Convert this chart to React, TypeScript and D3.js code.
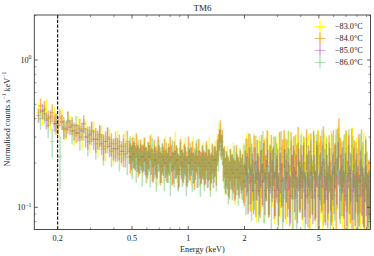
import React from "react";
import * as d3 from "d3";

// ---------- data ----------
// bin centres (keV) of the grouped spectra; two groupings
const energyA = [
  0.158, 0.166, 0.174, 0.183, 0.192, 0.201, 0.211, 0.222, 0.233, 0.245,
  0.257, 0.270, 0.283, 0.297, 0.312, 0.328, 0.344, 0.361, 0.379, 0.398,
  0.418, 0.439, 0.461, 0.484, 0.496, 0.508, 0.521, 0.534, 0.547, 0.561,
  0.575, 0.589, 0.604, 0.619, 0.634, 0.650, 0.666, 0.683, 0.700, 0.718,
  0.736, 0.754, 0.773, 0.792, 0.812, 0.832, 0.853, 0.874, 0.896, 0.919,
  0.942, 0.965, 0.989, 1.014, 1.039, 1.065, 1.092, 1.119, 1.147, 1.176,
  1.205, 1.235, 1.266, 1.298, 1.330, 1.363, 1.397, 1.432, 1.468, 1.505,
  1.542, 1.581, 1.620, 1.661, 1.702, 1.745, 1.788, 1.833, 1.879, 1.926,
  1.974, 2.020, 2.055, 2.091, 2.128, 2.165, 2.203, 2.242, 2.281, 2.321,
  2.362, 2.403, 2.445, 2.488, 2.532, 2.576, 2.621, 2.667, 2.714, 2.761,
  2.810, 2.859, 2.909, 2.960, 3.012, 3.065, 3.118, 3.173, 3.228, 3.285,
  3.342, 3.401, 3.460, 3.521, 3.582, 3.645, 3.709, 3.774, 3.840, 3.907,
  3.976, 4.045, 4.116, 4.188, 4.262, 4.336, 4.412, 4.490, 4.568, 4.648,
  4.730, 4.813, 4.897, 4.983, 5.070, 5.159, 5.249, 5.341, 5.434, 5.530,
  5.626, 5.725, 5.825, 5.927, 6.031, 6.136, 6.244, 6.353, 6.464, 6.577,
  6.692, 6.810, 6.929, 7.050, 7.174, 7.299, 7.427, 7.557, 7.689, 7.824,
  7.961, 8.100, 8.242, 8.386, 8.533, 8.682, 8.834, 8.989, 9.146, 9.306,
];
const energyB = [
  0.162, 0.170, 0.178, 0.187, 0.196, 0.206, 0.216, 0.227, 0.239, 0.251,
  0.263, 0.276, 0.290, 0.304, 0.320, 0.336, 0.352, 0.370, 0.388, 0.408,
  0.428, 0.450, 0.472, 0.490, 0.502, 0.514, 0.527, 0.540, 0.554, 0.568,
  0.582, 0.596, 0.611, 0.626, 0.642, 0.658, 0.674, 0.691, 0.709, 0.727,
  0.745, 0.763, 0.782, 0.802, 0.822, 0.842, 0.863, 0.885, 0.907, 0.930,
  0.953, 0.977, 1.001, 1.026, 1.052, 1.078, 1.105, 1.133, 1.161, 1.190,
  1.220, 1.250, 1.282, 1.314, 1.346, 1.380, 1.414, 1.450, 1.486, 1.523,
  1.561, 1.600, 1.640, 1.681, 1.723, 1.766, 1.810, 1.856, 1.902, 1.950,
  1.997, 2.037, 2.073, 2.109, 2.146, 2.184, 2.222, 2.261, 2.301, 2.341,
  2.382, 2.424, 2.466, 2.510, 2.554, 2.598, 2.644, 2.690, 2.737, 2.785,
  2.834, 2.884, 2.934, 2.986, 3.038, 3.091, 3.145, 3.200, 3.256, 3.313,
  3.371, 3.430, 3.490, 3.551, 3.613, 3.677, 3.741, 3.807, 3.873, 3.941,
  4.010, 4.080, 4.152, 4.225, 4.299, 4.374, 4.451, 4.529, 4.608, 4.689,
  4.771, 4.855, 4.940, 5.026, 5.114, 5.204, 5.295, 5.387, 5.482, 5.578,
  5.675, 5.775, 5.876, 5.979, 6.083, 6.190, 6.298, 6.408, 6.520, 6.634,
  6.751, 6.869, 6.989, 7.112, 7.236, 7.363, 7.492, 7.623, 7.756, 7.892,
  8.030, 8.171, 8.314, 8.459, 8.607, 8.758, 8.911, 9.067, 9.226, 9.390,
];

const seriesNames = ["\u221283.0\u00b0C", "\u221284.0\u00b0C", "\u221285.0\u00b0C", "\u221286.0\u00b0C"];

// normalised counts s^-1 keV^-1
const rate83 = [
  0.44, 0.41, 0.47, 0.38, 0.42, 0.35, 0.40, 0.33, 0.37, 0.31,
  0.36, 0.30, 0.34, 0.28, 0.33, 0.27, 0.31, 0.25, 0.29, 0.24,
  0.28, 0.23, 0.27, 0.25, 0.21, 0.26, 0.22, 0.25, 0.20, 0.24,
  0.21, 0.25, 0.19, 0.23, 0.26, 0.20, 0.22, 0.18, 0.24, 0.21,
  0.19, 0.25, 0.20, 0.23, 0.18, 0.22, 0.26, 0.19, 0.21, 0.23,
  0.18, 0.24, 0.20, 0.22, 0.19, 0.25, 0.18, 0.21, 0.23, 0.19,
  0.22, 0.18, 0.21, 0.24, 0.19, 0.20, 0.23, 0.25, 0.31, 0.27,
  0.20, 0.17, 0.21, 0.16, 0.19, 0.22, 0.15, 0.18, 0.20, 0.16,
  0.21, 0.15, 0.24, 0.13, 0.19, 0.23, 0.14, 0.25, 0.16, 0.12,
  0.22, 0.24, 0.14, 0.19, 0.12, 0.23, 0.16, 0.26, 0.13, 0.20,
  0.15, 0.23, 0.12, 0.21, 0.17, 0.25, 0.13, 0.20, 0.15, 0.24,
  0.12, 0.19, 0.25, 0.14, 0.22, 0.11, 0.18, 0.24, 0.13, 0.21,
  0.15, 0.25, 0.12, 0.22, 0.17, 0.13, 0.24, 0.11, 0.20, 0.15,
  0.23, 0.12, 0.18, 0.26, 0.13, 0.21, 0.11, 0.24, 0.15, 0.22,
  0.13, 0.20, 0.25, 0.12, 0.18, 0.23, 0.15, 0.27, 0.13, 0.21,
  0.12, 0.23, 0.15, 0.25, 0.11, 0.20, 0.13, 0.26, 0.17, 0.12,
  0.22, 0.13, 0.21, 0.11, 0.19, 0.24, 0.12, 0.17, 0.10, 0.14,
];
const rate84 = [
  0.49, 0.46, 0.40, 0.44, 0.37, 0.41, 0.34, 0.38, 0.36, 0.32,
  0.34, 0.37, 0.30, 0.33, 0.29, 0.31, 0.26, 0.30, 0.27, 0.25,
  0.26, 0.24, 0.28, 0.22, 0.25, 0.23, 0.27, 0.21, 0.24, 0.22,
  0.25, 0.21, 0.23, 0.26, 0.20, 0.24, 0.21, 0.25, 0.19, 0.22,
  0.24, 0.20, 0.22, 0.25, 0.19, 0.23, 0.21, 0.18, 0.24, 0.20,
  0.22, 0.19, 0.25, 0.20, 0.23, 0.18, 0.22, 0.24, 0.19, 0.21,
  0.19, 0.23, 0.20, 0.18, 0.22, 0.21, 0.19, 0.26, 0.33, 0.28,
  0.21, 0.19, 0.17, 0.20, 0.18, 0.16, 0.21, 0.17, 0.19, 0.18,
  0.15, 0.23, 0.18, 0.25, 0.14, 0.21, 0.16, 0.24, 0.13, 0.22,
  0.17, 0.13, 0.24, 0.15, 0.22, 0.17, 0.26, 0.13, 0.20, 0.24,
  0.19, 0.13, 0.23, 0.16, 0.12, 0.25, 0.15, 0.22, 0.26, 0.13,
  0.22, 0.15, 0.12, 0.25, 0.17, 0.23, 0.13, 0.20, 0.27, 0.15,
  0.20, 0.13, 0.23, 0.15, 0.26, 0.12, 0.18, 0.24, 0.14, 0.25,
  0.13, 0.21, 0.25, 0.12, 0.23, 0.15, 0.27, 0.13, 0.20, 0.12,
  0.23, 0.15, 0.13, 0.25, 0.20, 0.12, 0.26, 0.31, 0.22, 0.14,
  0.21, 0.12, 0.25, 0.15, 0.23, 0.13, 0.26, 0.12, 0.21, 0.15,
  0.12, 0.23, 0.15, 0.25, 0.13, 0.11, 0.21, 0.12, 0.15, 0.09,
];
const rate85 = [
  0.42, 0.45, 0.39, 0.41, 0.37, 0.36, 0.38, 0.34, 0.35, 0.33,
  0.32, 0.33, 0.30, 0.31, 0.29, 0.29, 0.27, 0.28, 0.26, 0.25,
  0.25, 0.24, 0.23, 0.24, 0.22, 0.23, 0.22, 0.22, 0.21, 0.22,
  0.22, 0.21, 0.20, 0.22, 0.21, 0.19, 0.21, 0.20, 0.22, 0.19,
  0.21, 0.20, 0.19, 0.21, 0.22, 0.19, 0.20, 0.21, 0.18, 0.20,
  0.19, 0.21, 0.18, 0.20, 0.21, 0.19, 0.20, 0.18, 0.20, 0.19,
  0.20, 0.19, 0.18, 0.20, 0.19, 0.18, 0.21, 0.24, 0.29, 0.26,
  0.20, 0.17, 0.18, 0.16, 0.18, 0.17, 0.16, 0.18, 0.16, 0.17,
  0.15, 0.19, 0.17, 0.13, 0.20, 0.15, 0.18, 0.13, 0.20, 0.16,
  0.18, 0.13, 0.19, 0.15, 0.21, 0.13, 0.16, 0.19, 0.13, 0.18,
  0.16, 0.20, 0.13, 0.17, 0.19, 0.13, 0.18, 0.15, 0.12, 0.19,
  0.16, 0.13, 0.19, 0.12, 0.17, 0.20, 0.14, 0.17, 0.12, 0.19,
  0.14, 0.17, 0.20, 0.13, 0.12, 0.17, 0.20, 0.13, 0.17, 0.12,
  0.17, 0.13, 0.20, 0.12, 0.17, 0.14, 0.20, 0.16, 0.12, 0.17,
  0.14, 0.19, 0.12, 0.17, 0.14, 0.20, 0.16, 0.21, 0.13, 0.17,
  0.19, 0.13, 0.17, 0.12, 0.20, 0.14, 0.17, 0.13, 0.19, 0.12,
  0.17, 0.14, 0.12, 0.18, 0.14, 0.12, 0.17, 0.14, 0.12, 0.13,
];
const rate86 = [
  0.40, 0.43, 0.36, 0.28, 0.38, 0.22, 0.35, 0.39, 0.33, 0.36,
  0.30, 0.34, 0.28, 0.32, 0.27, 0.30, 0.25, 0.29, 0.24, 0.27,
  0.23, 0.26, 0.22, 0.25, 0.21, 0.24, 0.20, 0.23, 0.22, 0.19,
  0.23, 0.20, 0.22, 0.19, 0.24, 0.21, 0.18, 0.23, 0.20, 0.22,
  0.18, 0.22, 0.20, 0.17, 0.23, 0.19, 0.21, 0.18, 0.22, 0.19,
  0.21, 0.17, 0.20, 0.22, 0.18, 0.20, 0.23, 0.19, 0.17, 0.21,
  0.18, 0.21, 0.19, 0.17, 0.21, 0.20, 0.18, 0.23, 0.28, 0.25,
  0.19, 0.18, 0.16, 0.19, 0.17, 0.20, 0.18, 0.16, 0.19, 0.17,
  0.20, 0.14, 0.22, 0.16, 0.24, 0.13, 0.19, 0.15, 0.23, 0.17,
  0.13, 0.21, 0.18, 0.25, 0.13, 0.17, 0.22, 0.14, 0.20, 0.12,
  0.18, 0.23, 0.14, 0.20, 0.12, 0.17, 0.25, 0.11, 0.18, 0.22,
  0.17, 0.25, 0.14, 0.21, 0.12, 0.18, 0.23, 0.11, 0.20, 0.15,
  0.23, 0.14, 0.20, 0.12, 0.22, 0.17, 0.11, 0.21, 0.15, 0.24,
  0.14, 0.23, 0.12, 0.20, 0.17, 0.25, 0.13, 0.18, 0.22, 0.14,
  0.20, 0.12, 0.23, 0.17, 0.14, 0.25, 0.16, 0.22, 0.13, 0.20,
  0.15, 0.23, 0.17, 0.12, 0.25, 0.17, 0.11, 0.22, 0.14, 0.20,
  0.18, 0.11, 0.23, 0.15, 0.20, 0.13, 0.22, 0.17, 0.12, 0.15,
];

// relative 1-sigma errors, percent
const err83 = [
  14, 12, 16, 13, 15, 12, 17, 14, 13, 16,
  15, 18, 14, 17, 16, 19, 15, 18, 17, 20,
  19, 17, 21, 18, 22, 19, 20, 23, 18, 21,
  22, 19, 24, 20, 21, 25, 19, 23, 20, 22,
  24, 21, 19, 25, 22, 20, 26, 23, 21, 24,
  22, 25, 20, 23, 26, 21, 24, 22, 27, 23,
  25, 22, 27, 24, 21, 26, 23, 22, 19, 21,
  26, 29, 24, 30, 27, 25, 31, 28, 26, 29,
  30, 27, 32, 28, 31, 29, 33, 27, 30, 34,
  31, 28, 33, 30, 35, 29, 32, 28, 34, 31,
  33, 30, 36, 31, 34, 29, 35, 32, 33, 30,
  36, 32, 30, 35, 33, 38, 34, 31, 36, 33,
  35, 31, 38, 33, 36, 34, 32, 39, 35, 37,
  33, 39, 36, 31, 38, 35, 40, 33, 37, 34,
  38, 35, 32, 40, 36, 34, 37, 31, 39, 36,
  40, 35, 38, 33, 42, 36, 39, 34, 37, 41,
  36, 40, 37, 43, 38, 35, 41, 39, 45, 40,
];
const err84 = [
  12, 15, 13, 14, 16, 13, 15, 17, 14, 15,
  17, 14, 18, 16, 19, 17, 20, 16, 18, 19,
  20, 22, 18, 23, 19, 21, 18, 24, 20, 22,
  19, 23, 21, 18, 25, 20, 24, 21, 26, 22,
  21, 25, 23, 20, 26, 22, 24, 27, 21, 25,
  23, 26, 21, 25, 22, 27, 23, 21, 26, 24,
  26, 22, 25, 28, 23, 24, 26, 21, 18, 20,
  24, 27, 30, 25, 28, 31, 26, 29, 27, 28,
  32, 28, 30, 27, 33, 29, 31, 28, 34, 30,
  30, 35, 29, 33, 30, 32, 28, 35, 31, 29,
  32, 36, 31, 33, 37, 30, 34, 31, 29, 36,
  31, 35, 38, 30, 34, 32, 37, 33, 30, 36,
  33, 37, 32, 36, 31, 39, 34, 32, 37, 33,
  38, 34, 32, 40, 33, 37, 31, 39, 35, 40,
  34, 37, 39, 33, 36, 41, 32, 30, 35, 38,
  35, 41, 33, 38, 35, 40, 32, 42, 36, 39,
  42, 36, 39, 35, 41, 44, 37, 42, 39, 48,
];
const err85 = [
  11, 12, 13, 11, 12, 13, 12, 13, 12, 14,
  13, 14, 15, 14, 16, 15, 16, 17, 16, 17,
  18, 17, 19, 18, 19, 20, 19, 21, 20, 19,
  20, 21, 22, 20, 21, 23, 21, 22, 20, 23,
  22, 21, 23, 22, 21, 24, 22, 21, 24, 22,
  23, 22, 24, 23, 22, 24, 23, 25, 22, 24,
  23, 24, 25, 23, 24, 25, 23, 20, 17, 19,
  25, 27, 26, 28, 26, 27, 29, 27, 28, 27,
  29, 28, 30, 31, 28, 30, 29, 31, 28, 30,
  30, 32, 29, 31, 30, 32, 31, 30, 32, 31,
  32, 30, 33, 32, 31, 33, 31, 32, 34, 31,
  32, 34, 31, 35, 33, 32, 34, 33, 35, 32,
  34, 33, 32, 34, 36, 33, 32, 35, 33, 36,
  33, 35, 32, 37, 34, 35, 33, 34, 37, 34,
  35, 33, 37, 34, 36, 33, 35, 32, 36, 35,
  34, 36, 35, 38, 33, 36, 35, 37, 34, 38,
  36, 37, 38, 35, 37, 39, 36, 38, 39, 37,
];
const err86 = [
  16, 14, 18, 22, 15, 40, 17, 15, 19, 16,
  19, 17, 21, 18, 22, 19, 23, 20, 22, 21,
  24, 21, 25, 22, 26, 23, 27, 24, 23, 27,
  24, 27, 25, 28, 23, 26, 29, 25, 27, 24,
  29, 25, 27, 30, 24, 28, 26, 29, 25, 28,
  26, 30, 27, 25, 29, 27, 24, 28, 31, 26,
  29, 26, 28, 31, 26, 27, 29, 24, 21, 23,
  30, 32, 35, 31, 34, 30, 33, 36, 31, 34,
  33, 37, 32, 35, 31, 38, 34, 36, 33, 35,
  39, 34, 36, 32, 40, 35, 33, 37, 34, 41,
  36, 33, 38, 35, 40, 36, 32, 42, 37, 34,
  37, 33, 39, 35, 41, 37, 34, 43, 36, 39,
  35, 40, 37, 42, 36, 38, 44, 37, 40, 36,
  41, 36, 43, 38, 39, 35, 42, 38, 36, 41,
  38, 43, 36, 40, 42, 35, 39, 37, 41, 38,
  42, 37, 40, 44, 36, 39, 45, 38, 41, 39,
  40, 46, 37, 42, 39, 44, 38, 41, 45, 43,
];

const xTickValues = [0.2, 0.5, 1, 2, 5];
const xTickLabels = ["0.2", "0.5", "1", "2", "5"];
const xMinorValues = [0.3, 0.4, 0.6, 0.7, 0.8, 0.9, 3, 4, 6, 7, 8, 9];
const yTickValues = [1, 0.1];
const yTickExp = ["0", "\u22121"];
const yMinorValues = [0.08, 0.09, 0.2, 0.3, 0.4, 0.5, 0.6, 0.7, 0.8, 0.9, 2];
const markerEnergy = 0.2;
const title = "TM6";
const xLabel = "Energy (keV)";

// ---------- styles ----------
const COLORS = ["#ffff00", "#ff8c00", "#a845c0", "#4caf50"];
const ALPHAS = [0.8, 0.62, 0.45, 0.38];
const FONT = "'Liberation Serif', 'DejaVu Serif', serif";
const W = 374, H = 256;
const L = 34.3, R = 370.5, T = 15, B = 229.5;
const FS = 8.2;

export default function App() {
  const x = d3.scaleLog().domain([0.15, 9.45]).range([L, R]);
  const y = d3.scaleLog().domain([0.0707, 2.02]).range([B, T]);

  const series = [
    { e: energyA, v: rate83, err: err83 },
    { e: energyB, v: rate84, err: err84 },
    { e: energyA, v: rate85, err: err85 },
    { e: energyB, v: rate86, err: err86 },
  ];

  const binEdges = (en: number[]) => {
    const n = en.length;
    return en.map((e, i) => {
      const lo = i > 0 ? Math.sqrt(en[i - 1] * e) : e / Math.sqrt(en[1] / e);
      const hi = i < n - 1 ? Math.sqrt(en[i + 1] * e) : e * Math.sqrt(e / en[n - 2]);
      return [lo, hi];
    });
  };

  const frame = "#3a3a3a";
  const maj = 3.5, mnr = 2;
  const legendX = 320, legendY0 = 26.5, legendDy = 12;

  return (
    <svg width={W} height={H} style={{ position: "absolute", left: 0, top: 0, background: "#fff" }} fontFamily={FONT}>
      <defs>
        <clipPath id="plotclip">
          <rect x={L} y={T} width={R - L} height={B - T} />
        </clipPath>
      </defs>
      <g clipPath="url(#plotclip)">
        {series.map((sr, s) => {
          const edges = binEdges(sr.e);
          const n = Math.min(sr.e.length, sr.v.length, sr.err.length);
          return (
            <g key={s} stroke={COLORS[s]} strokeOpacity={ALPHAS[s]} fill="none">
              {sr.v.slice(0, n).map((v, i) => {
                const e = (sr.err[i] / 100) * v;
                const xc = x(sr.e[i]);
                const yc = y(v);
                return (
                  <g key={i}>
                    <line x1={xc} x2={xc} y1={y(Math.max(v - e, 0.01))} y2={y(v + e)} strokeWidth={1.5} />
                    <line x1={x(edges[i][0])} x2={x(edges[i][1])} y1={yc} y2={yc} strokeWidth={1.1} />
                  </g>
                );
              })}
            </g>
          );
        })}
        <line x1={x(markerEnergy)} x2={x(markerEnergy)} y1={T} y2={B} stroke="#000" strokeWidth={1.1} strokeDasharray="3.2,1.6" />
      </g>

      <rect x={L} y={T} width={R - L} height={B - T} fill="none" stroke={frame} strokeWidth={0.9} />

      {xTickValues.map((v, i) => (
        <g key={"xt" + i}>
          <line x1={x(v)} x2={x(v)} y1={B} y2={B - maj} stroke={frame} strokeWidth={0.8} />
          <line x1={x(v)} x2={x(v)} y1={T} y2={T + maj} stroke={frame} strokeWidth={0.8} />
          <text x={x(v)} y={240.5} fontSize={FS} textAnchor="middle" fill="#222">{xTickLabels[i]}</text>
        </g>
      ))}
      {xMinorValues.map((v, i) => (
        <g key={"xm" + i}>
          <line x1={x(v)} x2={x(v)} y1={B} y2={B - mnr} stroke={frame} strokeWidth={0.6} />
          <line x1={x(v)} x2={x(v)} y1={T} y2={T + mnr} stroke={frame} strokeWidth={0.6} />
        </g>
      ))}

      {yTickValues.map((v, i) => (
        <g key={"yt" + i}>
          <line x1={L} x2={L + maj} y1={y(v)} y2={y(v)} stroke={frame} strokeWidth={0.8} />
          <line x1={R} x2={R - maj} y1={y(v)} y2={y(v)} stroke={frame} strokeWidth={0.8} />
          <text x={31.5} y={y(v) + 3} fontSize={FS} textAnchor="end" fill="#222">
            10<tspan fontSize={5.8} dy={-3.6}>{yTickExp[i]}</tspan>
          </text>
        </g>
      ))}
      {yMinorValues.map((v, i) => (
        <g key={"ym" + i}>
          <line x1={L} x2={L + mnr} y1={y(v)} y2={y(v)} stroke={frame} strokeWidth={0.6} />
          <line x1={R} x2={R - mnr} y1={y(v)} y2={y(v)} stroke={frame} strokeWidth={0.6} />
        </g>
      ))}

      <text x={(L + R) / 2} y={11} fontSize={9} textAnchor="middle" fill="#222">{title}</text>
      <text x={(L + R) / 2} y={251.5} fontSize={FS} textAnchor="middle" fill="#222">{xLabel}</text>
      <text transform={`translate(9.5, 119) rotate(-90)`} fontSize={FS} textAnchor="middle" fill="#222">
        Normalised counts s<tspan fontSize={5.8} dy={-3.4}>{"\u22121"}</tspan>
        <tspan dy={3.4}> keV</tspan><tspan fontSize={5.8} dy={-3.4}>{"\u22121"}</tspan>
      </text>

      {seriesNames.map((name, s) => {
        const ly = legendY0 + s * legendDy;
        return (
          <g key={"lg" + s}>
            <g stroke={COLORS[s]} strokeOpacity={ALPHAS[s]}>
              <line x1={legendX} x2={legendX} y1={ly - 6} y2={ly + 6} strokeWidth={1.5} />
              <line x1={legendX - 5.5} x2={legendX + 5.5} y1={ly} y2={ly} strokeWidth={1.1} />
            </g>
            <text x={335} y={ly + 2.8} fontSize={FS} fill="#222">{name}</text>
          </g>
        );
      })}
    </svg>
  );
}
